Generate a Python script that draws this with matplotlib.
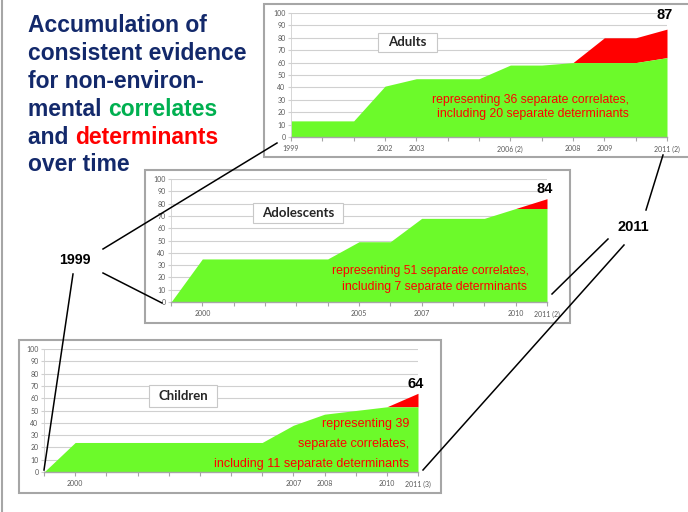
import numpy as np
import matplotlib
matplotlib.use('Agg')
import matplotlib.pyplot as plt
from matplotlib.patches import Rectangle

W, H = 688, 512

# --- data ---
adult_labels = ['1999', '', '', '2002', '2003', '', '', '2006 (2)', '', '2008', '2009', '', '2011 (2)']
adult_corr = [13, 13, 13, 41, 47, 47, 47, 58, 58, 60, 60, 60, 64]
adult_total = [13, 13, 13, 41, 47, 47, 47, 58, 58, 60, 80, 80, 87]

adol_labels = ['', '2000', '', '', '', '', '2005', '', '2007', '', '', '2010', '2011 (2)']
adol_corr = [0, 35, 35, 35, 35, 35, 49, 49, 68, 68, 68, 76, 76]
adol_total = [0, 35, 35, 35, 35, 35, 49, 49, 68, 68, 68, 76, 84]

child_labels = ['', '2000', '', '', '', '', '', '', '2007', '2008', '', '2010', '2011 (3)']
child_corr = [0, 24, 24, 24, 24, 24, 24, 24, 38, 47, 50, 53, 53]
child_total = [0, 24, 24, 24, 24, 24, 24, 24, 38, 47, 50, 53, 64]

GREEN = '#6CFA2A'
RED = '#FF0000'
NAVY = '#13296B'
TGREEN = '#00B050'
GRAY = '#595959'

fig = plt.figure(figsize=(W / 100, H / 100), dpi=100)

# background layer in pixel coords
bg = fig.add_axes([0, 0, 1, 1])
bg.set_xlim(0, W)
bg.set_ylim(H, 0)
bg.axis('off')

bg.plot([2, 2], [0, H], color='#A6A6A6', lw=1.5)

# chart frames
for (x0, y0, x1, y1) in [(264, 4, 700, 157), (145, 170, 570, 323), (19, 340, 441, 493)]:
    bg.add_patch(Rectangle((x0, y0), x1 - x0, y1 - y0, fc='white', ec='#A6A6A6', lw=1.5))

# title
tfont = dict(family='Liberation Sans', weight='bold', fontsize=16.5, va='baseline')
bg.text(28, 32, 'Accumulation of', color=NAVY, **tfont)
bg.text(28, 60, 'consistent evidence', color=NAVY, **tfont)
bg.text(28, 88, 'for non-environ-', color=NAVY, **tfont)
bg.text(28, 116, 'mental ', color=NAVY, **tfont)
bg.text(108, 116, 'correlates', color=TGREEN, **tfont)
bg.text(28, 144, 'and ', color=NAVY, **tfont)
bg.text(75, 144, 'determinants', color=RED, **tfont)
bg.text(28, 171, 'over time', color=NAVY, **tfont)


def panel(area, labels, corr, total, dy):
    x0, y0, x1, y1 = area
    ax = fig.add_axes([x0 / W, 1 - y1 / H, (x1 - x0) / W, (y1 - y0) / H])
    ax.patch.set_alpha(0)
    x = np.arange(len(corr))
    ax.fill_between(x, corr, total, color=RED, lw=0)
    ax.fill_between(x, 0, corr, color=GREEN, lw=0)
    ax.set_xlim(0, len(corr) - 1)
    ax.set_ylim(0, 100)
    ax.set_yticks(range(0, 101, 10))
    ax.yaxis.grid(True, color='#D0D0D0', lw=0.8)
    ax.set_axisbelow(True)
    ax.set_xticks(x, labels)
    ax.tick_params(axis='x', length=3, color='#A6A6A6', labelsize=5, labelcolor=GRAY, pad=3)
    ax.tick_params(axis='y', length=2, color='#D0D0D0', labelsize=5, labelcolor=GRAY, pad=2)
    for lab in ax.get_xticklabels() + ax.get_yticklabels():
        lab.set_family('Lato')
    for s in ['top', 'right']:
        ax.spines[s].set_visible(False)
    ax.spines['left'].set_color('#D0D0D0')
    ax.spines['left'].set_linewidth(0.6)
    ax.spines['bottom'].set_color('#A6A6A6')
    ax.spines['bottom'].set_linewidth(1)
    ax.annotate(str(total[-1]), xy=(x[-1], total[-1]), xytext=(-2, dy),
                textcoords='offset pixels', ha='center', va='center',
                fontsize=10.5, weight='bold', family='Liberation Sans',
                annotation_clip=False)
    return ax


panel((291, 13, 667, 137), adult_labels, adult_corr, adult_total, 14)
panel((171, 179, 547, 302), adol_labels, adol_corr, adol_total, 10)
panel((44, 349, 418, 472), child_labels, child_corr, child_total, 9)

# overlay layer
ov = fig.add_axes([0, 0, 1, 1])
ov.set_xlim(0, W)
ov.set_ylim(H, 0)
ov.axis('off')
ov.patch.set_alpha(0)

# group name boxes
for (bx0, by0, bx1, by1, name) in [(378, 33, 437, 52, 'Adults'),
                                   (253, 203, 343, 223, 'Adolescents'),
                                   (149, 385, 217, 407, 'Children')]:
    ov.add_patch(Rectangle((bx0, by0), bx1 - bx0, by1 - by0, fc='white', ec='#C8C8C8', lw=0.8))
    ov.text((bx0 + bx1) / 2, (by0 + by1) / 2, name, ha='center', va='center',
            fontsize=9.5, weight='bold', family='Lato', color='#262626')

# notes
nfont = dict(family='Liberation Sans', color=RED, va='center')
ov.text(531, 100, 'representing 36 separate correlates,', ha='center', fontsize=8.8, **nfont)
ov.text(533, 114, 'including 20 separate determinants', ha='center', fontsize=8.8, **nfont)
ov.text(431, 271, 'representing 51 separate correlates,', ha='center', fontsize=8.8, **nfont)
ov.text(434, 287, 'including 7 separate determinants', ha='center', fontsize=8.8, **nfont)
ov.text(409, 424, 'representing 39', ha='right', fontsize=9, **nfont)
ov.text(409, 444, 'separate correlates,', ha='right', fontsize=9, **nfont)
ov.text(409, 464, 'including 11 separate determinants', ha='right', fontsize=9, **nfont)

# year callouts
lfont = dict(family='Liberation Sans', weight='bold', ha='center', va='center')
ov.text(75, 260, '1999', fontsize=10.3, **lfont)
ov.text(633, 227, '2011', fontsize=10.5, **lfont)
for (xa, ya, xb, yb) in [(103, 249, 277, 143), (103, 273, 162, 303), (73, 274, 44, 470),
                         (646, 210, 663, 155), (608, 239, 552, 294), (624, 245, 423, 470)]:
    ov.plot([xa, xb], [ya, yb], color='black', lw=1.1)

fig.savefig('out.png', dpi=100, facecolor='white')
